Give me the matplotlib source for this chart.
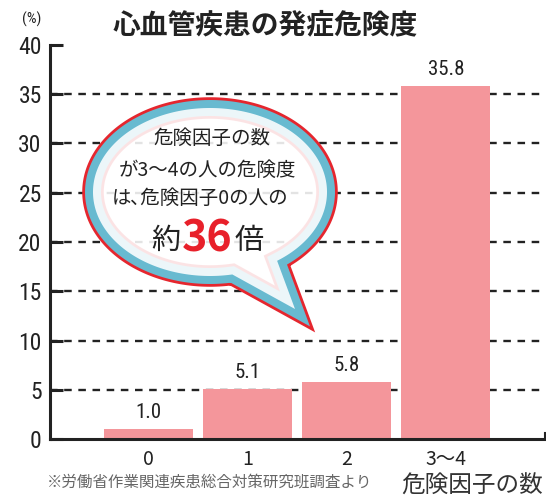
import numpy as np
import matplotlib
matplotlib.use("Agg")
import matplotlib.pyplot as plt
from matplotlib.path import Path
from matplotlib.patches import PathPatch
from matplotlib import font_manager

# ---- data ----
categories = ["0", "1", "2", "3〜4"]
values = [1.0, 5.1, 5.8, 35.8]
value_labels = ["1.0", "5.1", "5.8", "35.8"]
yticks = [0, 5, 10, 15, 20, 25, 30, 35, 40]
title = "心血管疾患の発症危険度"
bubble_lines = ["危険因子の数", "が3〜4の人の危険度", "は､危険因子0の人の"]
source = "※労働省作業関連疾患総合対策研究班調査より"
xlabel = "危険因子の数"

JP = "Noto Sans CJK JP"
avail = {f.name for f in font_manager.fontManager.ttflist}
NARROW = next((f for f in ["Liberation Sans Narrow", "DejaVu Sans Condensed", "Roboto Condensed", "Liberation Sans"] if f in avail), "DejaVu Sans")
plt.rcParams['font.family'] = [JP, 'DejaVu Sans']

W, H = 546, 497
fig = plt.figure(figsize=(W / 100, H / 100), dpi=100)
left_px, right_px, top_px, bot_px = 50, 545, 45, 439
ax = fig.add_axes([left_px / W, 1 - bot_px / H, (right_px - left_px) / W, (bot_px - top_px) / H])

x = np.arange(len(values))
bar_color = "#F4969B"
ax.bar(x, values, width=0.9, color=bar_color, zorder=2)
ax.set_xlim(-0.99, 4.0)
ax.set_ylim(0, 40)

for yv in yticks[1:-1]:
    ax.axhline(yv, xmin=0, xmax=0.995, color="#222222", lw=1.7, ls=(0, (3.2, 2.8)), zorder=1)

for i, (v, lab) in enumerate(zip(values, value_labels)):
    ax.annotate(lab, (x[i], v), xytext=(0, 5), textcoords="offset points",
                ha="center", va="bottom", fontsize=15, family=NARROW, color="#222222")

ax.set_yticks(yticks)
ax.set_yticklabels([str(t) for t in yticks], family=NARROW, fontsize=17, color="#222222")
ax.tick_params(axis="y", direction="in", length=9.5, width=2.2, pad=6, color="#222222")
ax.set_xticks(x)
ax.set_xticklabels(categories, fontsize=14, color="#222222")
ax.tick_params(axis="x", length=0, pad=7)
for s in ["top", "right"]:
    ax.spines[s].set_visible(False)
for s in ["left", "bottom"]:
    ax.spines[s].set_linewidth(2.2)
    ax.spines[s].set_color("#222222")
ax.plot([4.0, 4.0], [0, 0.6], color="#222222", lw=1.5, clip_on=False)

# ---- text ----
fig.text(265 / W, 1 - 25 / H, title, ha="center", va="center", fontsize=20,
         fontweight="bold", color="#222222")
fig.text(32 / W, 1 - 19 / H, "(%)", ha="center", va="center", fontsize=11,
         family=NARROW, color="#222222")
fig.text(47 / W, 1 - 482 / H, source, ha="left", va="center", fontsize=11.2, color="#666666")
fig.text(543 / W, 1 - 486 / H, xlabel, ha="right", va="center", fontsize=17, color="#333333")

# ---- speech bubble (overlay in pixel coords) ----
ov = fig.add_axes([0, 0, 1, 1])
ov.set_xlim(0, W)
ov.set_ylim(H, 0)
ov.axis("off")
cx, cy, a, b = 210, 192, 117, 84
th1, th2 = np.deg2rad(55), np.deg2rad(79)
t = np.linspace(th2, th1 + 2 * np.pi, 300)
pts = np.column_stack([cx + a * np.cos(t), cy + b * np.sin(t)])
tip = np.array([[295, 309]])
verts = np.vstack([pts, tip, pts[:1]])
codes = [Path.MOVETO] + [Path.LINETO] * (len(verts) - 2) + [Path.CLOSEPOLY]
path = Path(verts, codes)
ov.add_patch(PathPatch(path, facecolor="none", edgecolor="#E5262E", lw=15.5, joinstyle="miter"))
ov.add_patch(PathPatch(path, facecolor="none", edgecolor="#68BAD0", lw=11.5, joinstyle="miter"))
ov.add_patch(PathPatch(path, facecolor="white", edgecolor="none", alpha=0.88))

ys = [138, 170, 198]
xs = [212, 208, 200]
for line, xx, yy in zip(bubble_lines, xs, ys):
    ov.text(xx, yy, line, ha="center", va="center", fontsize=14, color="#222222")
ov.text(180, 241, "約", ha="right", va="center", fontsize=21, color="#222222")
ov.text(207, 238, "36", ha="center", va="center", fontsize=31, color="#E8202A", fontweight="bold")
ov.text(235, 241, "倍", ha="left", va="center", fontsize=21, color="#222222")

fig.savefig("out.png", dpi=100)
